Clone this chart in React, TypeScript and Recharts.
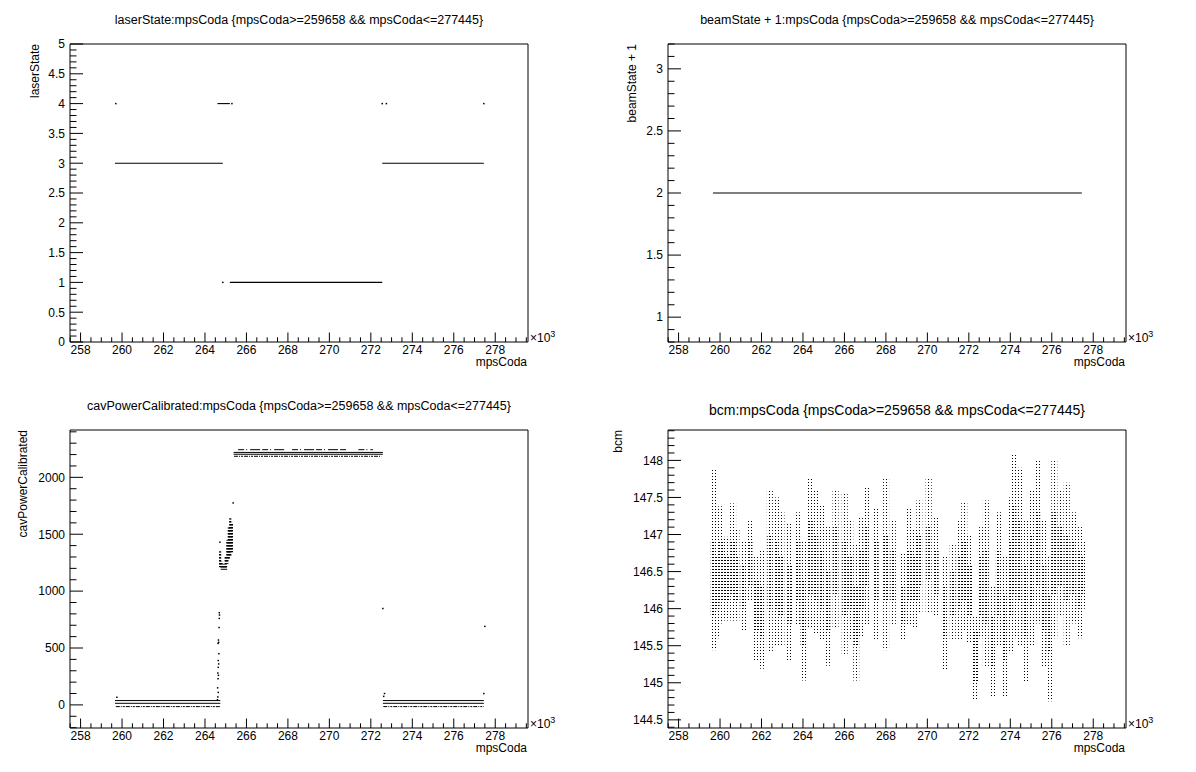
import React from 'react';
import { ComposedChart, Line, Scatter, Bar, XAxis, YAxis, ReferenceArea } from 'recharts';

const FONT = '"Liberation Sans", Arial, Helvetica, sans-serif';
const PW = 598;
const PH = 386;
const MARGIN = { top: 44, right: 70, bottom: 14, left: 10 };

// ---------- axes ----------
const xDomain: [number, number] = [257.49, 279.58];
const xMajorTicks = [258, 260, 262, 264, 266, 268, 270, 272, 274, 276, 278];

const laserDomain: [number, number] = [0, 5];
const laserMajorTicks = [0, 0.5, 1, 1.5, 2, 2.5, 3, 3.5, 4, 4.5, 5];

const beamDomain: [number, number] = [0.8, 3.2];
const beamMajorTicks = [1, 1.5, 2, 2.5, 3];

const cavDomain: [number, number] = [-203, 2416];
const cavMajorTicks = [0, 500, 1000, 1500, 2000];

const bcmDomain: [number, number] = [144.39, 148.41];
const bcmMajorTicks = [144.5, 145, 145.5, 146, 146.5, 147, 147.5, 148];

function steps(a: number, b: number, s: number): number[] {
  const out: number[] = [];
  for (let v = a; v <= b + 1e-9; v += s) out.push(Math.round(v * 1000) / 1000);
  return out;
}

// ---------- data: laserState ----------
const laserSegments = [
  { x1: 259.66, x2: 264.86, y: 3 },
  { x1: 272.55, x2: 277.45, y: 3 },
  { x1: 265.2, x2: 272.55, y: 1 },
  { x1: 264.6, x2: 265.2, y: 4 },
];
const laserDots = [
  { x: 259.7, y: 4 },
  { x: 265.3, y: 4 },
  { x: 272.55, y: 4 },
  { x: 272.75, y: 4 },
  { x: 277.45, y: 4 },
  { x: 264.86, y: 1 },
];

// ---------- data: beamState + 1 ----------
const beamSegments = [{ x1: 259.66, x2: 277.45, y: 2 }];

// ---------- data: cavPowerCalibrated ----------
const cavSolidRows = [
  { x1: 259.66, x2: 264.74, y: 38 },
  { x1: 259.66, x2: 264.74, y: 14 },
  { x1: 272.58, x2: 277.45, y: 38 },
  { x1: 272.58, x2: 277.45, y: 14 },
  { x1: 265.38, x2: 272.58, y: 2219 },
  { x1: 265.38, x2: 272.58, y: 2203 },
  { x1: 264.76, x2: 265.07, y: 1215 },
  { x1: 264.76, x2: 265.07, y: 1192 },
];
const cavDashedRows = [
  { x1: 259.7, x2: 264.74, y: -15 },
  { x1: 272.6, x2: 277.45, y: -15 },
  { x1: 265.4, x2: 272.5, y: 2185 },
];
const cavSparseRows = [
  { x1: 265.6, x2: 267.9, y: 2243 },
  { x1: 268.2, x2: 270.9, y: 2243 },
  { x1: 271.4, x2: 272.1, y: 2243 },
];
const cavPoints = [
  { x: 259.75, y: 67 }, { x: 264.6, y: 45 }, { x: 264.62, y: 70 }, { x: 264.64, y: 110 },
  { x: 264.61, y: 150 }, { x: 264.63, y: 230 }, { x: 264.65, y: 260 }, { x: 264.62, y: 280 },
  { x: 264.64, y: 330 }, { x: 264.66, y: 360 }, { x: 264.64, y: 390 }, { x: 264.67, y: 450 },
  { x: 264.63, y: 540 }, { x: 264.66, y: 550 }, { x: 264.65, y: 570 }, { x: 264.68, y: 680 },
  { x: 264.69, y: 760 }, { x: 264.7, y: 790 }, { x: 264.69, y: 810 }, { x: 264.72, y: 1430 },
  { x: 265.36, y: 1775 }, { x: 272.58, y: 847 }, { x: 277.5, y: 690 }, { x: 277.45, y: 100 },
  { x: 272.62, y: 75 }, { x: 272.66, y: 100 },
];
const cavClusterX = [264.73, 264.8, 264.9, 265.0, 265.08, 265.15, 265.22, 265.3];
const cavClusterLow = [1210, 1195, 1195, 1200, 1240, 1280, 1300, 1340];
const cavClusterHigh = [1350, 1260, 1240, 1300, 1450, 1560, 1640, 1600];

// ---------- data: bcm ----------
const bcmX = [
  259.65, 259.84, 260.0, 260.29, 260.61, 260.77, 261.09, 261.42, 261.74, 261.98,
  262.38, 262.7, 262.94, 263.34, 263.74, 263.98, 264.33, 264.6, 264.86, 265.18,
  265.55, 265.99, 266.26, 266.55, 266.79, 267.03, 267.51, 267.99, 268.31, 268.79,
  269.11, 269.43, 269.59, 270.04, 270.4, 270.8, 271.2, 271.52, 271.76, 272.03,
  272.32, 272.55, 272.8, 273.12, 273.4, 273.7, 274.0, 274.15, 274.4, 274.7,
  275.0, 275.3, 275.6, 275.85, 276.1, 276.4, 276.7, 277.0, 277.3, 277.45,
];
const bcmLow = [
  145.44, 145.6, 145.8, 145.84, 145.84, 145.84, 145.7, 146.1, 145.3, 145.19,
  145.41, 145.5, 145.5, 145.28, 145.77, 145.03, 145.75, 145.66, 145.57, 145.23,
  145.75, 145.39, 145.57, 145.03, 145.62, 145.77, 145.57, 145.44, 145.77, 145.57,
  145.77, 145.75, 145.93, 145.93, 145.9, 145.17, 145.57, 145.57, 145.7, 145.53,
  144.76, 145.6, 145.22, 144.81, 145.5, 144.8, 145.4, 145.6, 145.5, 145.0,
  145.5, 145.8, 145.2, 144.75, 145.6, 145.9, 145.5, 145.8, 145.6, 146.0,
];
const bcmHigh = [
  147.87, 147.1, 147.38, 146.97, 147.42, 147.08, 146.9, 147.19, 146.7, 146.8,
  147.6, 147.5, 147.3, 147.15, 147.3, 146.9, 147.77, 147.6, 147.4, 147.1,
  147.6, 147.55, 147.19, 146.88, 147.24, 147.64, 147.35, 147.77, 147.19, 146.74,
  147.35, 147.08, 147.46, 147.77, 147.24, 146.72, 146.88, 147.19, 147.44, 146.98,
  145.9, 147.1, 147.46, 146.3, 147.3, 146.7, 147.5, 148.1, 147.9, 147.2,
  147.6, 148.0, 147.2, 146.7, 148.0, 147.6, 147.7, 147.3, 147.1, 146.9,
];
const bcmCoreLow = [
  145.9, 146.0, 146.1, 146.1, 146.2, 146.1, 146.0, 146.3, 145.7, 145.6,
  146.0, 146.0, 145.9, 145.8, 146.1, 145.5, 146.2, 146.1, 146.0, 145.7,
  146.2, 145.9, 146.0, 145.5, 146.0, 146.3, 146.1, 146.1, 146.1, 145.8,
  146.1, 146.1, 146.3, 146.4, 146.2, 145.6, 145.9, 146.0, 146.1, 145.9,
  145.0, 145.9, 145.8, 145.2, 145.9, 145.3, 145.9, 146.2, 146.1, 145.6,
  146.0, 146.3, 145.7, 145.4, 146.2, 146.3, 146.1, 146.2, 146.0, 146.2,
];
const bcmCoreHigh = [
  146.9, 146.7, 146.9, 146.7, 146.9, 146.7, 146.6, 146.9, 146.4, 146.3,
  147.0, 146.9, 146.7, 146.6, 146.9, 146.4, 147.2, 147.0, 146.8, 146.5,
  147.1, 146.9, 146.7, 146.3, 146.8, 147.1, 146.9, 147.0, 146.8, 146.3,
  146.8, 146.7, 147.0, 147.1, 146.8, 146.3, 146.5, 146.7, 146.9, 146.6,
  145.7, 146.7, 146.8, 145.9, 146.8, 146.2, 146.9, 147.4, 147.2, 146.6,
  147.0, 147.3, 146.6, 146.2, 147.3, 147.1, 147.0, 146.9, 146.8, 146.7,
];

// ---------- helpers ----------
const isIn = (arr: number[], v: number) => arr.some((m) => Math.abs(m - v) < 1e-6);
const fmt = (v: number) => String(Number(v.toFixed(3)));

function makeXTick(major: number[]) {
  return (p: any) => {
    const { x, y, payload } = p;
    const v = payload.value;
    const mj = isIn(major, v);
    return (
      <g>
        <line x1={x} x2={x} y1={y} y2={y - (mj ? 9.5 : 4.7)} stroke="#000" strokeWidth={1} />
        {mj && (
          <text x={x} y={y + 12} textAnchor="middle" fontSize={12} fontFamily={FONT} fill="#000">
            {fmt(v)}
          </text>
        )}
      </g>
    );
  };
}

function makeYTick(major: number[]) {
  return (p: any) => {
    const { x, y, payload } = p;
    const v = payload.value;
    const mj = isIn(major, v);
    return (
      <g>
        <line x1={x} x2={x + (mj ? 13 : 6.5)} y1={y} y2={y} stroke="#000" strokeWidth={1} />
        {mj && (
          <text x={x - 5} y={y} dy="0.36em" textAnchor="end" fontSize={12} fontFamily={FONT} fill="#000">
            {fmt(v)}
          </text>
        )}
      </g>
    );
  };
}

// Column shape: centred on the bar's x position, with a fixed drawn width.
function makeColumnShape(w: number, fill: string) {
  return (p: any) => {
    const cx = p.x + p.width / 2;
    return <rect x={cx - w / 2} y={p.y} width={w} height={Math.max(p.height, 1)} fill={fill} />;
  };
}

const dotShape = (p: any) => <rect x={p.cx - 0.75} y={p.cy - 0.75} width={1.5} height={1.5} fill="#000" />;

function segLine(s: { x1: number; x2: number; y: number }, key: string, dash?: string, w = 1.1) {
  return (
    <Line
      key={key}
      data={[{ x: s.x1, y: s.y }, { x: s.x2, y: s.y }]}
      dataKey="y"
      stroke="#000"
      strokeWidth={w}
      strokeDasharray={dash}
      dot={false}
      activeDot={false}
      isAnimationActive={false}
      legendType="none"
    />
  );
}

type PanelProps = {
  left: number;
  top: number;
  title: string;
  titleSize: number;
  titleY: number;
  yTitle: string;
  yTitleX: number;
  yDomain: [number, number];
  yMajor: number[];
  yMinor: number[];
  data?: any[];
  children: React.ReactNode;
};

function Panel(props: PanelProps) {
  const { left, top, title, titleSize, titleY, yTitle, yTitleX, yDomain, yMajor, yMinor, data, children } = props;
  return (
    <div style={{ position: 'absolute', left, top, width: PW, height: PH }}>
      <ComposedChart width={PW} height={PH} data={data} margin={MARGIN}>
        <XAxis
          dataKey="x"
          type="number"
          domain={xDomain}
          allowDataOverflow
          ticks={steps(257.5, 279.5, 0.5)}
          interval={0}
          tickLine={false}
          axisLine={false}
          tickSize={0}
          tickMargin={0}
          height={30}
          tick={makeXTick(xMajorTicks)}
        />
        <XAxis xAxisId="core" dataKey="x" type="number" domain={xDomain} allowDataOverflow hide />
        <YAxis
          type="number"
          domain={yDomain}
          allowDataOverflow
          ticks={yMinor}
          interval={0}
          tickLine={false}
          axisLine={false}
          tickSize={0}
          tickMargin={0}
          width={60}
          tick={makeYTick(yMajor)}
        />
        <ReferenceArea
          x1={xDomain[0]}
          x2={xDomain[1]}
          y1={yDomain[0]}
          y2={yDomain[1]}
          fill="none"
          fillOpacity={0}
          stroke="#000"
          strokeWidth={1}
          ifOverflow="visible"
        />
        {children}
      </ComposedChart>
      <svg
        width={PW}
        height={PH}
        style={{ position: 'absolute', left: 0, top: 0, pointerEvents: 'none' }}
      >
        <text x={299} y={titleY} textAnchor="middle" fontSize={titleSize} fontFamily={FONT} fill="#000">
          {title}
        </text>
        <text x={527} y={366} textAnchor="end" fontSize={12} fontFamily={FONT} fill="#000">
          mpsCoda
        </text>
        <text x={530} y={342} fontSize={12} fontFamily={FONT} fill="#000">
          ×10
          <tspan dy={-5} fontSize={9}>
            3
          </tspan>
        </text>
        <text
          x={yTitleX}
          y={44}
          textAnchor="end"
          fontSize={12}
          fontFamily={FONT}
          fill="#000"
          transform={`rotate(-90 ${yTitleX} 44)`}
          dy="0.36em"
        >
          {yTitle}
        </text>
      </svg>
    </div>
  );
}

const bcmData = bcmX.map((x, i) => ({
  x,
  range: [bcmLow[i], bcmHigh[i]],
  core: [bcmCoreLow[i], bcmCoreHigh[i]],
}));
const cavClusterData = cavClusterX.map((x, i) => ({ x, range: [cavClusterLow[i], cavClusterHigh[i]] }));

const CUT = '{mpsCoda>=259658 && mpsCoda<=277445}';

export default function App() {
  return (
    <div style={{ position: 'absolute', left: 0, top: 0, width: 1196, height: 772, background: '#fff' }}>
      <Panel
        left={0}
        top={0}
        title={`laserState:mpsCoda ${CUT}`}
        titleSize={12.5}
        titleY={24}
        yTitle="laserState"
        yTitleX={35}
        yDomain={laserDomain}
        yMajor={laserMajorTicks}
        yMinor={steps(0, 5, 0.1)}
      >
        {laserSegments.map((s, i) => segLine(s, 'ls' + i))}
        <Scatter data={laserDots} dataKey="y" shape={dotShape} isAnimationActive={false} />
      </Panel>

      <Panel
        left={598}
        top={0}
        title={`beamState + 1:mpsCoda ${CUT}`}
        titleSize={12.5}
        titleY={24}
        yTitle="beamState + 1"
        yTitleX={34}
        yDomain={beamDomain}
        yMajor={beamMajorTicks}
        yMinor={steps(0.8, 3.2, 0.1)}
      >
        {beamSegments.map((s, i) => segLine(s, 'bs' + i))}
      </Panel>

      <Panel
        left={0}
        top={386}
        title={`cavPowerCalibrated:mpsCoda ${CUT}`}
        titleSize={12.5}
        titleY={24}
        yTitle="cavPowerCalibrated"
        yTitleX={23}
        yDomain={cavDomain}
        yMajor={cavMajorTicks}
        yMinor={steps(-200, 2400, 100)}
        data={cavClusterData}
      >
        <defs>
          <pattern id="cavDots" patternUnits="userSpaceOnUse" width={1} height={3}>
            <rect x={0} y={0} width={1} height={1.6} fill="#000" />
          </pattern>
        </defs>
        <Bar
          dataKey="range"
          barSize={2}
          fill="url(#cavDots)"
          shape={makeColumnShape(2.2, 'url(#cavDots)')}
          isAnimationActive={false}
        />
        {cavSolidRows.map((s, i) => segLine(s, 'cs' + i, undefined, 1))}
        {cavDashedRows.map((s, i) => segLine(s, 'cd' + i, '4 1 1 1 2 1', 1))}
        {cavSparseRows.map((s, i) => segLine(s, 'cp' + i, '6 2 1 3 10 2', 1))}
        <Scatter data={cavPoints} dataKey="y" shape={dotShape} isAnimationActive={false} />
      </Panel>

      <Panel
        left={598}
        top={386}
        title={`bcm:mpsCoda ${CUT}`}
        titleSize={14}
        titleY={29}
        yTitle="bcm"
        yTitleX={20}
        yDomain={bcmDomain}
        yMajor={bcmMajorTicks}
        yMinor={steps(144.4, 148.4, 0.1)}
        data={bcmData}
      >
        <defs>
          <pattern id="bcmDots" patternUnits="userSpaceOnUse" width={3} height={3}>
            <rect x={0} y={0} width={1} height={1} fill="#000" />
          </pattern>
          <pattern id="bcmRows" patternUnits="userSpaceOnUse" width={3} height={3}>
            <rect x={0} y={0} width={2} height={1} fill="#000" />
          </pattern>
        </defs>
        <Bar
          dataKey="range"
          barSize={2}
          fill="url(#bcmDots)"
          shape={makeColumnShape(6, 'url(#bcmDots)')}
          isAnimationActive={false}
        />
        <Bar
          xAxisId="core"
          dataKey="core"
          barSize={2}
          fill="url(#bcmRows)"
          shape={makeColumnShape(5, 'url(#bcmRows)')}
          isAnimationActive={false}
        />
      </Panel>
    </div>
  );
}
